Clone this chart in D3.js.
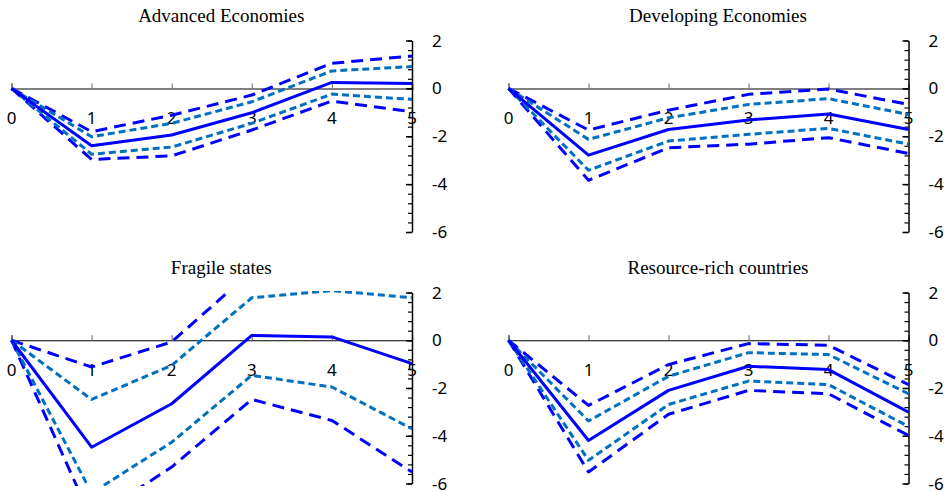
<!DOCTYPE html>
<html>
<head>
<meta charset="utf-8">
<script src="https://cdn.jsdelivr.net/npm/d3@7"></script>
<style>
  html, body { margin: 0; padding: 0; background: #fff; }
  svg { display: block; }
</style>
</head>
<body>
<svg id="chart" width="950" height="492"></svg>
<script>
// Horizon (years after the shock)
const periods = [0, 1, 2, 3, 4, 5];
const yTicks = [2, 0, -2, -4, -6];

const panelTitles = ["Advanced Economies", "Developing Economies", "Fragile states", "Resource-rich countries"];

// Advanced economies: point estimate with inner and outer confidence bands
const advMid     = [0, -2.40, -1.95, -1.02, 0.25, 0.20];
const advInnerHi = [0, -2.02, -1.46, -0.56, 0.73, 0.91];
const advInnerLo = [0, -2.75, -2.45, -1.46, -0.24, -0.46];
const advOuterHi = [0, -1.81, -1.12, -0.28, 1.05, 1.35];
const advOuterLo = [0, -2.97, -2.82, -1.74, -0.53, -0.98];

// Developing economies
const devMid     = [0, -2.79, -1.72, -1.32, -1.07, -1.72];
const devInnerHi = [0, -2.13, -1.23, -0.67, -0.43, -1.09];
const devInnerLo = [0, -3.42, -2.20, -1.92, -1.67, -2.33];
const devOuterHi = [0, -1.74, -0.91, -0.25, -0.03, -0.67];
const devOuterLo = [0, -3.84, -2.48, -2.33, -2.06, -2.72];

// Fragile states
const fraMid     = [0, -4.48, -2.66, 0.20, 0.14, -0.98];
const fraInnerHi = [0, -2.48, -1.05, 1.78, 2.08, 1.78];
const fraInnerLo = [0, -6.40, -4.27, -1.47, -1.96, -3.71];
const fraOuterHi = [0, -1.12, -0.07, 2.90, 3.60, 3.50];
const fraOuterLo = [0, -7.50, -5.31, -2.48, -3.36, -5.52];

// Resource-rich countries
const resMid     = [0, -4.20, -2.10, -1.09, -1.23, -3.01];
const resInnerHi = [0, -3.38, -1.51, -0.52, -0.60, -2.24];
const resInnerLo = [0, -5.03, -2.69, -1.71, -1.86, -3.61];
const resOuterHi = [0, -2.73, -1.02, -0.14, -0.21, -1.86];
const resOuterLo = [0, -5.52, -3.10, -2.10, -2.24, -3.99];

const panelData = [
  [advMid, advInnerHi, advInnerLo, advOuterHi, advOuterLo],
  [devMid, devInnerHi, devInnerLo, devOuterHi, devOuterLo],
  [fraMid, fraInnerHi, fraInnerLo, fraOuterHi, fraOuterLo],
  [resMid, resInnerHi, resInnerLo, resOuterHi, resOuterLo]
];

// Layout of the 2x2 grid
const panels = [
  { x0: 11.5,  x1: 412,   yTop: 40.5,  yBot: 232,   zeroColor: "#808080", zeroWidth: 2 },
  { x0: 508.5, x1: 908.5, yTop: 40.5,  yBot: 232,   zeroColor: "#808080", zeroWidth: 2 },
  { x0: 11.5,  x1: 412,   yTop: 292.5, yBot: 483.5, zeroColor: "#000000", zeroWidth: 1.2 },
  { x0: 508.5, x1: 908.5, yTop: 292.5, yBot: 483.5, zeroColor: "#000000", zeroWidth: 1.2 }
];

const seriesStyle = [
  { color: "#0000ff", width: 3,   dash: null },
  { color: "#0070c0", width: 3,   dash: "7,4" },
  { color: "#0070c0", width: 3,   dash: "7,4" },
  { color: "#0000ff", width: 3,   dash: "12,7" },
  { color: "#0000ff", width: 3,   dash: "12,7" }
];

const svg = d3.select("#chart");

panels.forEach((p, i) => {
  const x = d3.scaleLinear().domain([0, 5]).range([p.x0, p.x1]);
  const y = d3.scaleLinear().domain([-6, 2]).range([p.yBot, p.yTop]);
  const g = svg.append("g");

  // Title
  g.append("text")
    .attr("x", (p.x0 + p.x1) / 2 + 9.5)
    .attr("y", p.yTop - 18.5)
    .attr("text-anchor", "middle")
    .attr("font-family", "'Liberation Serif', 'Times New Roman', serif")
    .attr("font-size", 19)
    .attr("fill", "#000")
    .text(panelTitles[i]);

  // Horizontal axis at zero, ticks pointing up, labels below
  const xAxis = d3.axisTop(x).tickValues(periods).tickSize(5).tickFormat("");
  const xg = g.append("g").attr("transform", `translate(0,${y(0)})`).call(xAxis);
  xg.select(".domain").attr("stroke", p.zeroColor).attr("stroke-width", p.zeroWidth);
  xg.selectAll(".tick line").attr("stroke", "#808080").attr("stroke-width", 1.2);

  g.append("g").selectAll("text")
    .data(periods)
    .join("text")
    .attr("x", d => x(d))
    .attr("y", y(0) + 36)
    .attr("text-anchor", "middle")
    .attr("font-family", "'Noto Sans', 'Open Sans', sans-serif")
    .attr("font-size", 17)
    .attr("fill", "#000")
    .text(d => d);

  // Vertical axis on the right, ticks pointing inward
  const minor = d3.range(-6, 2.0001, 0.4).map(v => +v.toFixed(1));
  const yMinor = d3.axisLeft(y).tickValues(minor).tickSize(4).tickFormat("");
  const ymg = g.append("g").attr("transform", `translate(${p.x1},0)`).call(yMinor);
  ymg.select(".domain").remove();
  ymg.selectAll(".tick line").attr("stroke", "#000").attr("stroke-width", 1.2);

  const yAxis = d3.axisLeft(y).tickValues(yTicks).tickSize(6).tickSizeOuter(0).tickFormat("");
  const yg = g.append("g").attr("transform", `translate(${p.x1},0)`).call(yAxis);
  yg.select(".domain").attr("stroke", "#000").attr("stroke-width", 1.5);
  yg.selectAll(".tick line").attr("stroke", "#000").attr("stroke-width", 1.5);

  g.append("g").selectAll("text")
    .data(yTicks)
    .join("text")
    .attr("x", p.x1 + 20)
    .attr("y", d => y(d))
    .attr("dy", "0.36em")
    .attr("text-anchor", "start")
    .attr("font-family", "'Noto Sans', 'Open Sans', sans-serif")
    .attr("font-size", 17)
    .attr("fill", "#000")
    .text(d => d);

  // Lines, clipped to the plot area
  const clipId = "clip" + i;
  svg.append("clipPath").attr("id", clipId)
    .append("rect")
    .attr("x", p.x0 - 5).attr("y", p.yTop - 1.5)
    .attr("width", p.x1 - p.x0 + 10).attr("height", p.yBot - p.yTop + 4);

  const line = d3.line().x((d, k) => x(periods[k])).y(d => y(d));
  const lg = g.append("g").attr("clip-path", `url(#${clipId})`);
  // draw bands first, point estimate on top
  [4, 3, 2, 1, 0].forEach(s => {
    const st = seriesStyle[s];
    lg.append("path")
      .datum(panelData[i][s])
      .attr("d", line)
      .attr("fill", "none")
      .attr("stroke", st.color)
      .attr("stroke-width", st.width)
      .attr("stroke-dasharray", st.dash)
      .attr("stroke-linejoin", "round");
  });
});
</script>
</body>
</html>
